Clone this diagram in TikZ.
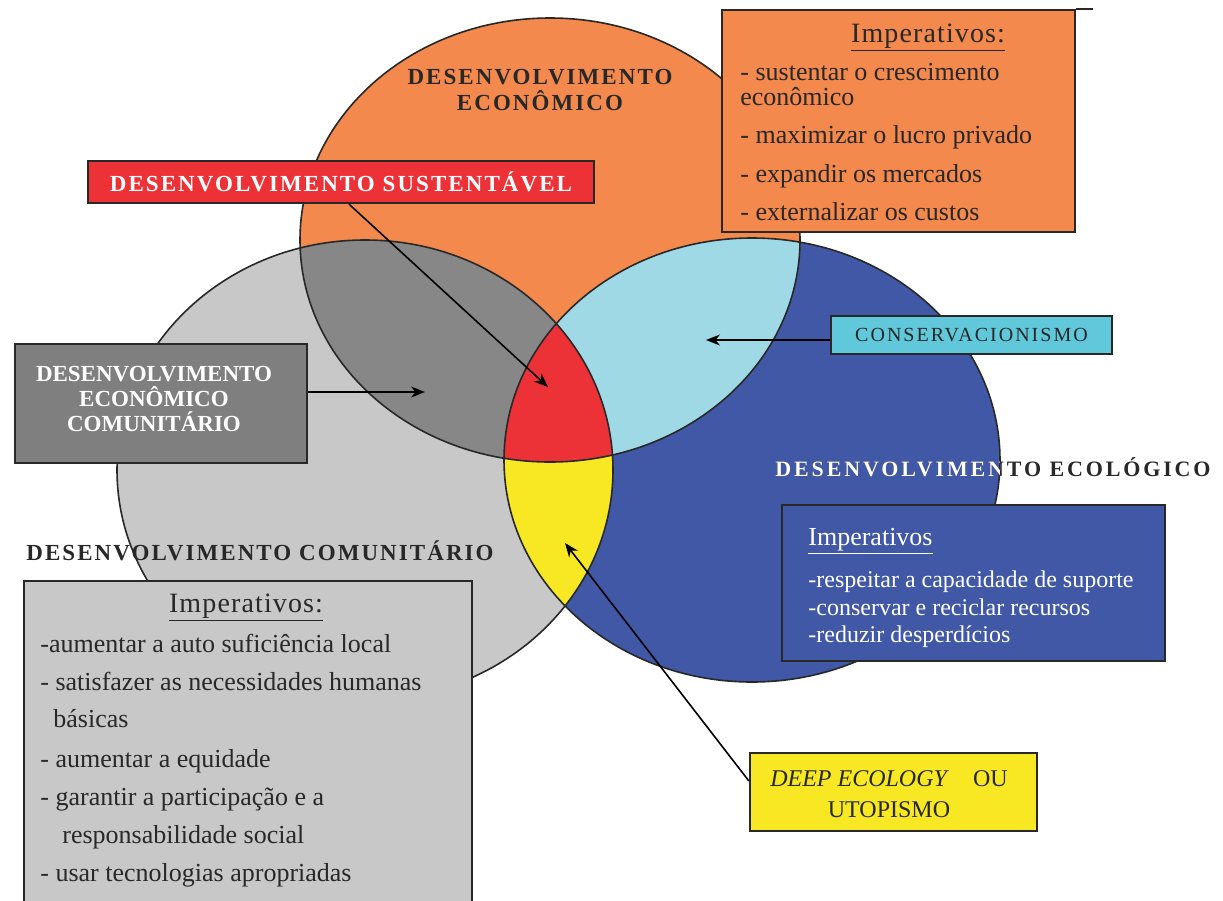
\documentclass[tikz,border=0pt]{standalone}
\usepackage{fontspec}
\setmainfont{Liberation Serif}
\newfontfamily\spacedfont[LetterSpace=9]{Liberation Serif}
\newfontfamily\widefont[LetterSpace=13]{Liberation Serif}
\newfontfamily\consfont[LetterSpace=10]{Liberation Serif}
\newfontfamily\headfont[LetterSpace=4]{Liberation Serif}
\usepackage{xcolor}
\definecolor{EconOrange}{RGB}{243,137,77}
\definecolor{CommGrey}{RGB}{200,200,200}
\definecolor{EcolBlue}{RGB}{65,88,166}
\definecolor{LensGrey}{RGB}{134,135,134}
\definecolor{LensCyan}{RGB}{160,217,230}
\definecolor{CoreRed}{RGB}{236,50,55}
\definecolor{LensYellow}{RGB}{247,232,35}
\definecolor{ConsCyan}{RGB}{96,200,218}
\definecolor{PanelGrey}{RGB}{127,127,127}
\definecolor{InkGrey}{RGB}{40,40,40}
\usetikzlibrary{positioning}
\usetikzlibrary{calc}
\usetikzlibrary{arrows.meta}

\begin{document}
\begin{tikzpicture}[
    x = 0.5pt, y = 0.5pt
    , ring/.style = {
      , draw = InkGrey
      , line width = 0.8pt
    }
    , panel/.style = {
      , rectangle
      , draw = InkGrey
      , line width = 1.1pt
      , inner sep = 0pt
    }
    , bigtitle/.style = {
      , font = \spacedfont\bfseries\fontsize{11.5}{13}\selectfont
      , align = center
      , text = InkGrey
      , inner sep = 0pt
    }
    , itemline/.style = {
      , font = \fontsize{13}{13}\selectfont
      , anchor = base west
      , text = InkGrey
      , inner sep = 0pt
    }
    , imphead/.style = {
      , font = \headfont\fontsize{14}{14}\selectfont
      , anchor = base
      , text = InkGrey
      , inner sep = 0pt
    }
    , ecoline/.style = {
      itemline,
      font = \fontsize{12}{12}\selectfont,
      text = white
    }
    , pointer/.style = {
      , -{Stealth[length = 7pt, width = 5.5pt]}
      , draw = black
      , line width = 0.8pt
    }
    ]
    \useasboundingbox (0,0) rectangle (1223,-901);

    \def\econpath{(550,-240) ellipse [x radius = 250, y radius = 222]}
    \def\commpath{(365,-470) ellipse [x radius = 248, y radius = 230]}
    \def\ecolpath{(752,-460) ellipse [x radius = 248, y radius = 222]}

    % the three spheres
    \fill[CommGrey] \commpath;
    \fill[EconOrange] \econpath;
    \fill[EcolBlue] \ecolpath;
    \begin{scope}
      \clip \econpath;
      \fill[LensGrey] \commpath;
      \fill[LensCyan] \ecolpath;
    \end{scope}
    \begin{scope}
      \clip \commpath;
      \fill[LensYellow] \ecolpath;
      \clip \econpath;
      \fill[CoreRed] \ecolpath;
    \end{scope}
    \draw[ring] \commpath;
    \draw[ring] \econpath;
    \draw[ring] \ecolpath;

    \node[bigtitle] (econTitle) at (540,-90) {DESENVOLVIMENTO\\ECONÔMICO};

    % economic imperatives
    \node[panel, fill = EconOrange, minimum width = 176.5pt, minimum height = 111pt] (econPanel) at (898.5,-121) {};
    \draw[draw = InkGrey, line width = 1.1pt] (econPanel.north east) -- ++(17,0);
    \node[imphead] (econHead) at (928,-42) {\underline{Imperativos:}};
    \node[itemline] (econItem1) at (740,-80) {- sustentar o crescimento};
    \node[itemline] (econItem1b) at (740,-105) {econômico};
    \node[itemline] (econItem2) at (740,-143) {- maximizar o lucro privado};
    \node[itemline] (econItem3) at (740,-182) {- expandir os mercados};
    \node[itemline] (econItem4) at (740,-220) {- externalizar os custos};

    \node[panel, fill = CoreRed, minimum width = 253pt, minimum height = 21pt] (susBox) at (341,-182) {};
    \node[bigtitle, text = white] (susText) at (susBox.center) {DESENVOLVIMENTO SUSTENTÁVEL};

    \node[panel, fill = PanelGrey, minimum width = 146pt, minimum height = 59.5pt] (lensPanel) at (161,-403.5) {};
    \node[align = center, text = white, inner sep = 0pt,
      font = \bfseries\fontsize{11.5}{12.5}\selectfont] (lensText) at (154,-399) {DESENVOLVIMENTO\\ECONÔMICO\\COMUNITÁRIO};

    \node[panel, fill = ConsCyan, minimum width = 140.5pt, minimum height = 19pt] (consBox) at (971.5,-335) {};
    \node[font = \consfont\fontsize{10}{10}\selectfont, text = InkGrey, inner sep = 0pt] (consText) at (consBox.center) {CONSERVACIONISMO};

    % ecological title, white where it sits on the blue sphere
    \node[bigtitle, font = \widefont\bfseries\fontsize{11}{13}\selectfont] (ecolTitle) at (993,-467) {DESENVOLVIMENTO ECOLÓGICO};
    \begin{scope}
      \clip \ecolpath;
      \node[bigtitle, font = \widefont\bfseries\fontsize{11}{13}\selectfont, text = white] (ecolTitleLit) at (ecolTitle.center) {DESENVOLVIMENTO ECOLÓGICO};
    \end{scope}

    % ecological imperatives
    \node[panel, fill = EcolBlue, minimum width = 191.5pt, minimum height = 78pt] (ecolPanel) at (973.5,-583) {};
    \node[ecoline, font = \fontsize{13}{13}\selectfont] (ecolHead) at (808,-545) {\underline{Imperativos}};
    \node[ecoline] (ecolItem1) at (808,-587) {-respeitar a capacidade de suporte};
    \node[ecoline] (ecolItem2) at (808,-615) {-conservar e reciclar recursos};
    \node[ecoline] (ecolItem3) at (808,-642) {-reduzir desperdícios};

    \node[bigtitle] (commTitle) at (260,-551) {DESENVOLVIMENTO COMUNITÁRIO};

    % community imperatives
    \node[panel, fill = CommGrey, minimum width = 224pt, minimum height = 164.5pt] (commPanel) at (248,-745.5) {};
    \node[imphead] (commHead) at (246,-612) {\underline{Imperativos:}};
    \node[itemline] (commItem1) at (40,-652) {-aumentar a auto suficiência local};
    \node[itemline] (commItem2) at (40,-690) {- satisfazer as necessidades humanas};
    \node[itemline] (commItem2b) at (53,-727) {básicas};
    \node[itemline] (commItem3) at (40,-767) {- aumentar a equidade};
    \node[itemline] (commItem4) at (40,-805) {- garantir a participação e a};
    \node[itemline] (commItem4b) at (62,-843) {responsabilidade social};
    \node[itemline] (commItem5) at (40,-881) {- usar tecnologias apropriadas};

    \node[panel, fill = LensYellow, minimum width = 143.5pt, minimum height = 39pt] (deepBox) at (893.5,-792) {};
    \node[align = center, text = InkGrey, inner sep = 0pt,
      font = \fontsize{12}{15.5}\selectfont] (deepText) at (889,-794) {\textit{DEEP ECOLOGY}\quad OU\\UTOPISMO};

    \coordinate (susTip) at (548,-387);
    \coordinate (lensTip) at (425,-392);
    \coordinate (consTip) at (706,-340);
    \coordinate (deepTip) at (565,-543);

    \draw[pointer] ($ (susBox.south) + (8,0) $) -- (susTip);
    \draw[pointer] (lensPanel.east |- lensTip) -- (lensTip);
    \draw[pointer] (consBox.west |- consTip) -- (consTip);
    \draw[pointer] ($ (deepBox.west) + (0,11) $) -- (deepTip);
  \end{tikzpicture}
\end{document}
